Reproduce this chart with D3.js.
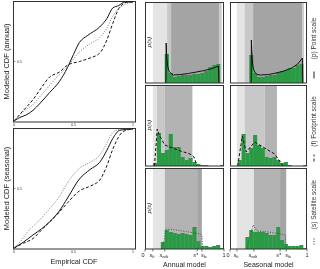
<!DOCTYPE html>
<html>
<head>
<meta charset="utf-8">
<script src="https://cdn.jsdelivr.net/npm/d3@7"></script>
<style>
  body { margin: 0; background: #fff; }
  svg { display: block; font-family: "Liberation Sans", Arial, sans-serif; will-change: transform; opacity: 0.999; }
</style>
</head>
<body>
<div id="chart"></div>
<script>
// CDF comparison (x = empirical, y = modeled)
const annualPoint     = [[0,0],[.05,.03],[.10,.05],[.16,.09],[.22,.15],[.30,.24],[.38,.33],[.45,.45],[.50,.56],[.55,.66],[.62,.72],[.72,.79],[.78,.86],[.83,.95],[.88,.97],[.93,1],[1,1]];
const annualFootprint = [[0,0],[.08,.09],[.16,.18],[.23,.28],[.30,.37],[.38,.41],[.45,.47],[.55,.50],[.64,.53],[.72,.57],[.78,.68],[.83,.82],[.89,.96],[.96,1],[1,1]];
const annualSatellite = [[0,0],[.08,.08],[.16,.14],[.23,.22],[.30,.30],[.38,.39],[.45,.46],[.55,.58],[.64,.65],[.72,.70],[.78,.78],[.83,.88],[.93,.98],[1,1]];
const seasonalPoint     = [[0,0],[.08,.05],[.16,.11],[.23,.16],[.30,.22],[.38,.31],[.45,.42],[.55,.58],[.64,.66],[.72,.72],[.78,.82],[.83,.92],[.89,.99],[1,1]];
const seasonalFootprint = [[0,0],[.08,.04],[.16,.08],[.23,.15],[.30,.22],[.38,.30],[.45,.38],[.55,.48],[.64,.52],[.72,.57],[.78,.69],[.83,.83],[.92,.98],[1,1]];
const seasonalSatellite = [[0,0],[.05,.05],[.11,.13],[.20,.22],[.30,.33],[.38,.43],[.45,.55],[.55,.67],[.64,.72],[.72,.78],[.78,.88],[.83,.97],[.90,1],[1,1]];

// soil moisture histograms, 20 bins of 0.05
const histPointAnnual       = [0,0,0,0,0,2.9,1.0,0.6,0.7,0.8,0.8,0.8,0.9,0.9,1.0,1.2,1.6,1.8,1.9,0];
const histPointSeasonal     = [0,0,0,0,0,2.8,1.0,0.6,0.6,0.7,0.8,0.8,1.1,1.2,1.3,1.5,1.5,1.8,1.9,0];
const histFootprintAnnual   = [0,0,0.3,3.3,1.3,1.6,3.2,1.9,1.9,0.9,0.6,0.8,0.4,0.2,0.1,0.1,0,0,0,0.1];
const histFootprintSeasonal = [0,0,0.6,3.2,1.3,1.8,3.1,2.1,1.8,0.9,0.8,0.9,0.6,0.3,0.4,0.1,0,0,0,0.1];
const histSatelliteAnnual   = [0,0,0,0,0.7,1.9,1.7,1.6,1.5,1.6,1.5,1.4,2.2,0.8,0.3,0.3,0.2,0.3,0.4,0.1];
const histSatelliteSeasonal = [0,0,0,0,1.2,1.9,1.7,1.7,1.7,1.6,1.4,1.4,2.2,0.9,0.5,0.3,0.3,0.3,0.4,0.1];

// modeled pdf p(s)
const pdfPointAnnual = [[.265,0],[.268,4.0],[.272,3.2],[.278,2.4],[.285,1.8],[.295,1.4],[.31,1.15],[.33,0.95],[.36,0.8],[.45,0.85],[.55,0.95],[.65,1.1],[.75,1.25],[.85,1.45],[.93,1.7],[.935,0]];
const pdfPointSeasonal = [[.275,0],[.278,4.3],[.282,3.4],[.288,2.5],[.295,1.9],[.305,1.4],[.32,1.1],[.35,0.85],[.40,0.8],[.50,0.85],[.60,1.0],[.70,1.2],[.80,1.5],[.88,1.9],[.94,2.5],[.945,0]];
const pdfFootprintAnnual = [[.12,0],[.155,3.7],[.18,3.1],[.25,2.1],[.35,1.8],[.45,1.5],[.57,1.2],[.62,0.9],[.66,0]];
const pdfFootprintSeasonal = [[.10,0],[.16,3.0],[.21,1.4],[.32,2.4],[.45,1.8],[.58,1.2],[.69,0]];
const pdfSatelliteAnnual = [[.22,0],[.27,2.0],[.40,1.9],[.55,1.7],[.70,1.5],[.72,1.4],[.73,0]];
const pdfSatelliteSeasonal = [[.22,0],[.30,2.4],[.35,1.8],[.50,1.7],[.65,1.5],[.72,1.4],[.73,0]];

// grey bands [from, to, shade]
const bandsPointAnnual       = [[.10,.28,0],[.28,.33,1],[.33,.94,3],[.94,.97,1]];
const bandsPointSeasonal     = [[.09,.19,0],[.19,.30,1],[.30,.94,3],[.94,.96,1]];
const bandsFootprintAnnual   = [[.10,.15,0],[.15,.25,1],[.25,.60,2]];
const bandsFootprintSeasonal = [[.09,.19,0],[.19,.45,1],[.45,.61,2]];
const bandsSatelliteAnnual   = [[.10,.25,0],[.25,.66,2],[.66,.72,3]];
const bandsSatelliteSeasonal = [[.09,.31,0],[.31,.65,2],[.65,.73,3]];
const shades = ["#e4e4e4", "#c8c8c8", "#b3b3b3", "#a4a4a4"];

// thresholds for x tick labels
const thresholdNames = ["s_h", "s_wilt", "s*", "s_fc"];
const thresholdsAnnual   = [.10, .25, .66, .72];
const thresholdsSeasonal = [.09, .31, .65, .73];

const scaleNames = ["(p) Point scale", "(f) Footprint scale", "(s) Satellite scale"];
const dashes = [null, "3,2", "1,1.5"];
const green = "#2b9a45";

const svg = d3.select("#chart").append("svg")
    .attr("width", 320)
    .attr("height", 269);

// ---- left CDF panels ----
const cx = d3.scaleLinear().domain([0, 1]).range([14, 133]);
const cdfPanels = [
    {top: 2, bottom: 121, label: "Modeled CDF (annual)", lines: [annualPoint, annualFootprint, annualSatellite]},
    {top: 129, bottom: 248, label: "Modeled CDF (seasonal)", lines: [seasonalPoint, seasonalFootprint, seasonalSatellite]}
];

cdfPanels.forEach(function(p) {
    const cy = d3.scaleLinear().domain([0, 1]).range([p.bottom, p.top]);
    const g = svg.append("g");
    g.append("rect")
        .attr("x", 13.5).attr("y", p.top - 0.5)
        .attr("width", 122).attr("height", p.bottom - p.top + 1.5)
        .attr("fill", "none").attr("stroke", "#333").attr("stroke-width", 1);

    const line = d3.line()
        .x(d => cx(d[0])).y(d => cy(d[1]))
        .curve(d3.curveMonotoneX);

    p.lines.forEach(function(l, i) {
        g.append("path")
            .attr("d", line(l))
            .attr("fill", "none")
            .attr("stroke", i == 2 ? "#555" : "#111")
            .attr("stroke-width", i == 2 ? 0.8 : 1)
            .attr("stroke-dasharray", dashes[i]);
    });

    // tiny ticks
    g.append("text").attr("x", 17).attr("y", cy(0.5) + 1.3)
        .attr("font-size", 3.6).attr("fill", "#333").text("0.5");
    g.append("line").attr("x1", 13.5).attr("x2", 15.5)
        .attr("y1", cy(0.5)).attr("y2", cy(0.5)).attr("stroke", "#333").attr("stroke-width", 0.5);
    [0, 0.5, 1].forEach(function(v) {
        g.append("text").attr("x", cx(v)).attr("y", p.bottom + 5.2)
            .attr("text-anchor", "middle").attr("font-size", 3.6).attr("fill", "#333").text(v);
    });

    g.append("text")
        .attr("transform", `translate(8.5,${(p.top + p.bottom) / 2}) rotate(-90)`)
        .attr("text-anchor", "middle")
        .attr("font-size", 7.5)
        .attr("fill", "#222")
        .text(p.label);
});

svg.append("text")
    .attr("x", 74).attr("y", 264)
    .attr("text-anchor", "middle")
    .attr("font-size", 7.3)
    .attr("fill", "#222")
    .text("Empirical CDF");

// ---- right pdf panels ----
const rows = [
    {top: 2, hists: [histPointAnnual, histPointSeasonal], pdfs: [pdfPointAnnual, pdfPointSeasonal], bands: [bandsPointAnnual, bandsPointSeasonal]},
    {top: 85, hists: [histFootprintAnnual, histFootprintSeasonal], pdfs: [pdfFootprintAnnual, pdfFootprintSeasonal], bands: [bandsFootprintAnnual, bandsFootprintSeasonal]},
    {top: 168, hists: [histSatelliteAnnual, histSatelliteSeasonal], pdfs: [pdfSatelliteAnnual, pdfSatelliteSeasonal], bands: [bandsSatelliteAnnual, bandsSatelliteSeasonal]}
];
const rowH = 81;
const cols = [
    {left: 145, right: 224, title: "Annual model", thresholds: thresholdsAnnual},
    {left: 230, right: 307, title: "Seasonal model", thresholds: thresholdsSeasonal}
];
const binWidth = 0.05;

rows.forEach(function(r, ri) {
    const y = d3.scaleLinear().domain([0, 8.1]).range([r.top + rowH, r.top]);
    cols.forEach(function(c, ci) {
        const x = d3.scaleLinear().domain([0, 1]).range([c.left, c.right]);
        const g = svg.append("g");

        g.selectAll(".band")
            .data(r.bands[ci])
            .enter().append("rect")
            .attr("x", d => x(d[0]))
            .attr("width", d => x(d[1]) - x(d[0]))
            .attr("y", r.top)
            .attr("height", rowH)
            .attr("fill", d => shades[d[2]]);

        g.selectAll(".bar")
            .data(r.hists[ci])
            .enter().append("rect")
            .attr("x", (d, i) => x(i * binWidth))
            .attr("width", x(binWidth) - x(0) + 0.2)
            .attr("y", d => y(d))
            .attr("height", d => y(0) - y(d))
            .attr("fill", green);

        const line = d3.line().x(d => x(d[0])).y(d => y(d[1]));
        g.append("path")
            .attr("d", line(r.pdfs[ci]))
            .attr("fill", "none")
            .attr("stroke", ri == 2 ? "#444" : "#111")
            .attr("stroke-width", ri == 2 ? 0.9 : 1)
            .attr("stroke-dasharray", dashes[ri]);

        g.append("rect")
            .attr("x", c.left + 0.5).attr("y", r.top + 0.5)
            .attr("width", c.right - c.left - 1).attr("height", rowH - 0.5)
            .attr("fill", "none").attr("stroke", "#333").attr("stroke-width", 1);

        if (ci == 0) {
            g.append("text")
                .attr("transform", `translate(${c.left + 5.5},${r.top + 40}) rotate(-90)`)
                .attr("text-anchor", "middle")
                .attr("font-size", 6)
                .attr("font-style", "italic")
                .attr("fill", "#333")
                .text("p(s)");
        }

        if (ri == 2) {
            const base = r.top + rowH;
            const ticks = [0].concat(c.thresholds, [1]);
            g.selectAll(".tick")
                .data(ticks)
                .enter().append("line")
                .attr("x1", d => x(d)).attr("x2", d => x(d))
                .attr("y1", base).attr("y2", base + 2.5)
                .attr("stroke", "#333").attr("stroke-width", 0.7);

            const labels = ["0"].concat(thresholdNames, ["1"]);
            const tx = g.selectAll(".tl")
                .data(ticks)
                .enter().append("text")
                .attr("x", (d, i) => i == 0 ? x(d) - 2 : i == 5 ? x(d) : i == 3 ? x(d) + 1 : x(d) - 1)
                .attr("y", base + 8)
                .attr("text-anchor", (d, i) => i == 3 ? "end" : i == 4 ? "start" : "middle")
                .attr("font-size", 5.5)
                .attr("fill", "#222");
            tx.each(function(d, i) {
                const t = d3.select(this);
                const name = labels[i];
                if (name.startsWith("s")) {
                    const parts = name.split("_");
                    t.append("tspan").attr("font-style", "italic").text(parts[0]);
                    if (parts[1]) {
                        t.append("tspan").attr("font-size", 4).attr("font-style", "italic").attr("dy", 1).text(parts[1]);
                    }
                } else {
                    t.text(name);
                }
            });

            g.append("text")
                .attr("x", (c.left + c.right) / 2)
                .attr("y", 267)
                .attr("text-anchor", "middle")
                .attr("font-size", 7)
                .attr("fill", "#222")
                .text(c.title);
        }
    });

    // scale label with legend line
    const lx = 314;
    const mid = r.top + rowH / 2;
    const lg = svg.append("g").attr("transform", `translate(${lx},${mid}) rotate(-90)`);
    lg.append("text")
        .attr("x", 4)
        .attr("y", 2.2)
        .attr("text-anchor", "middle")
        .attr("font-size", 6.5)
        .attr("fill", "#333")
        .text(scaleNames[ri]);
    lg.append("line")
        .attr("x1", -36).attr("x2", -29)
        .attr("y1", 0).attr("y2", 0)
        .attr("stroke", "#222").attr("stroke-width", 1)
        .attr("stroke-dasharray", dashes[ri]);
});
</script>
</body>
</html>
